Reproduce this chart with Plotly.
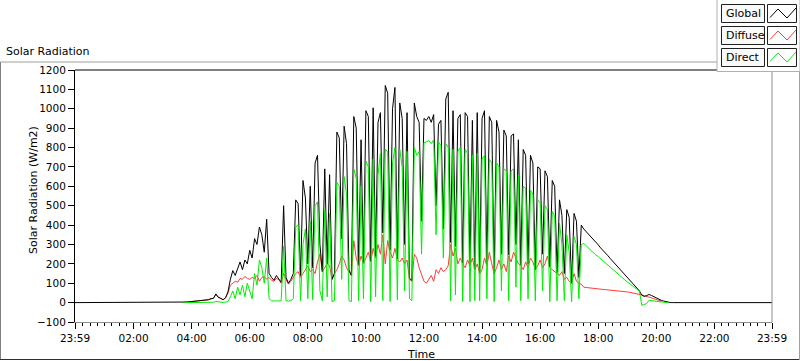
import plotly.graph_objects as go
import pandas as pd

# ---------------- data (5-minute samples from 03:40) ----------------
day_start = "2024-06-15 03:40"
night_start = "2024-06-14 23:59"
night_end = "2024-06-15 23:59"

global_vals = [
    0, 2, 3, 4,
    5, 6, 7, 9, 10, 12, 14, 15, 20, 22, 45, 28,
    22, 15, 25, 55, 120, 165, 140, 180, 210, 170, 220, 200,
    270, 230, 330, 300, 390, 350, 260, 430, 150, 130, 115, 140,
    120, 105, 500, 130, 100, 120, 150, 530, 510, 140, 630, 540,
    200, 600, 180, 720, 760, 300, 160, 690, 200, 660, 120, 150,
    880, 850, 330, 910, 820, 170, 140, 960, 900, 195, 840, 210,
    990, 960, 215, 1005, 240, 930, 980, 360, 1120, 1080, 270, 1000,
    1110, 225, 1030, 950, 300, 980, 125, 115, 1030, 960, 930, 420,
    950, 940, 960, 930, 970, 500, 920, 940, 380, 1050, 1085, 310,
    990, 290, 950, 970, 205, 980, 960, 195, 940, 175, 980, 155,
    950, 990, 200, 960, 930, 150, 940, 880, 250, 890, 860, 245,
    860, 870, 300, 840, 195, 790, 760, 200, 760, 720, 170, 700,
    690, 250, 680, 650, 185, 630, 600, 155, 530, 450, 150, 480,
    440, 100, 460, 420, 130, 400, 380, 367, 353, 338, 326, 311,
    298, 282, 270, 254, 242, 227, 213, 201, 186, 173, 157, 145,
    131, 116, 103, 88, 75, 61, 38, 32, 36, 42, 37, 30,
    24, 18, 12, 8, 4, 1, 0, 0, 0, 0,
]

diffuse_vals = [
    None, 2, 3, 4,
    5, 6, 7, 9, 10, 12, 14, 15, 20, 22, 40, 28,
    22, 15, 24, 50, 90, 100, 110, 105, 125, 120, 135, 125,
    120, 130, 125, 140, 110, 130, 135, 120, 130, 115, 110, 125,
    118, 100, 150, 120, 95, 110, 130, 150, 160, 130, 150, 170,
    190, 160, 170, 150, 210, 250, 160, 180, 200, 190, 120, 150,
    170, 200, 240, 220, 180, 160, 140, 320, 230, 190, 240, 200,
    230, 260, 210, 280, 230, 300, 250, 350, 200, 320, 260, 230,
    280, 220, 210, 230, 200, 220, 120, 110, 250, 230, 180, 150,
    110, 100, 120, 140, 110, 170, 150, 180, 160, 170, 190, 300,
    240, 280, 200, 230, 200, 180, 220, 190, 230, 170, 200, 150,
    170, 230, 190, 260, 200, 150, 180, 220, 170, 200, 160, 240,
    210, 260, 230, 200, 190, 170, 210, 180, 230, 210, 170, 190,
    220, 180, 200, 240, 180, 170, 160, 150, 140, 160, 120, 130,
    110, 100, 150, 110, 100, 95, 80, 78, 76, 74, 73, 72,
    70, 69, 68, 67, 66, 65, 63, 62, 61, 60, 58, 57,
    55, 53, 51, 49, 47, 45, 40, 36, 32, 28, 22, 18,
    14, 10, 8, None, None, None, None, None, None, None,
]

direct_vals = [
    None, 0, 0, 0,
    0, 0, 0, 0, 0, 1, 1, 1, 2, 2, 6, 3,
    2, 1, 3, 5, 30, 60, 20, 80, 40, 90, 30, 100,
    60, 20, 150, 90, 220, 180, 100, 230, 20, 10, 8, 10,
    8, 10, 290, 10, 8, 10, 20, 390, 400, 10, 300, 380,
    20, 420, 15, 500, 520, 60, 10, 480, 30, 460, 5, 10,
    620, 600, 120, 650, 560, 10, 5, 690, 640, 10, 600, 20,
    730, 700, 5, 740, 30, 660, 770, 10, 790, 780, 5, 720,
    800, 15, 790, 700, 60, 780, 20, 10, 800, 760, 780, 250,
    825, 830, 835, 820, 840, 350, 830, 810, 230, 820, 800, 10,
    790, 40, 780, 800, 5, 790, 770, 5, 760, 10, 770, 10,
    740, 760, 20, 740, 720, 5, 720, 700, 60, 690, 680, 10,
    680, 690, 80, 660, 10, 600, 590, 20, 580, 560, 10, 530,
    515, 60, 500, 480, 5, 470, 450, 10, 410, 300, 10, 350,
    260, 5, 340, 300, 20, 300, 306, 293, 281, 267, 257, 246,
    237, 226, 213, 203, 190, 181, 168, 159, 147, 138, 126, 117,
    107, 97, 89, 78, 70, 60, -14, -8, -5, 12, 10, 8,
    5, 4, 3, 2, 1, 0, None, None, None, None,
]

tick_times = ["2024-06-14 23:59", "2024-06-15 02:00", "2024-06-15 04:00",
              "2024-06-15 06:00", "2024-06-15 08:00", "2024-06-15 10:00",
              "2024-06-15 12:00", "2024-06-15 14:00", "2024-06-15 16:00",
              "2024-06-15 18:00", "2024-06-15 20:00", "2024-06-15 22:00",
              "2024-06-15 23:59"]
tick_labels = ["23:59", "02:00", "04:00", "06:00", "08:00", "10:00", "12:00",
               "14:00", "16:00", "18:00", "20:00", "22:00", "23:59"]

series_names = ["Global", "Diffuse", "Direct"]
series_colors = ["#000000", "#ff3b3b", "#00ee00"]

# ---------------- figure ----------------
times = list(pd.date_range(day_start, periods=len(global_vals), freq="5min"))

W, H = 800, 361
L, R, T, B = 75, 772, 70, 322
FONT = "DejaVu Sans"


def px(x):
    return (x - L) / (R - L)


def py(y):
    return (B - y) / (B - T)


fig = go.Figure()
fig.add_trace(go.Scatter(x=times, y=diffuse_vals, mode="lines", name="Diffuse",
                         line=dict(color=series_colors[1], width=1), showlegend=False))
fig.add_trace(go.Scatter(x=[pd.Timestamp(night_start)] + times + [pd.Timestamp(night_end)],
                         y=[0] + global_vals + [0], mode="lines", name="Global",
                         line=dict(color=series_colors[0], width=1), showlegend=False))
fig.add_trace(go.Scatter(x=times, y=direct_vals, mode="lines", name="Direct",
                         line=dict(color=series_colors[2], width=1), showlegend=False))

shapes = []
# outer frame
shapes.append(dict(type="line", xref="paper", yref="paper", x0=px(0.5), x1=px(717), y0=py(62), y1=py(62),
                   line=dict(color="#a0a0a0", width=1)))
shapes.append(dict(type="line", xref="paper", yref="paper", x0=px(0.5), x1=px(0.5), y0=py(62), y1=py(360),
                   line=dict(color="#808080", width=1)))
shapes.append(dict(type="line", xref="paper", yref="paper", x0=px(0), x1=px(800), y0=py(359.5), y1=py(359.5),
                   line=dict(color="#303030", width=1)))
shapes.append(dict(type="line", xref="paper", yref="paper", x0=px(799.5), x1=px(799.5), y0=py(62), y1=py(360),
                   line=dict(color="#a0a0a0", width=1)))
# plot borders
shapes.append(dict(type="line", xref="paper", yref="paper", x0=0, x1=1, y0=1, y1=1,
                   line=dict(color="#000000", width=1)))
shapes.append(dict(type="line", xref="paper", yref="paper", x0=1, x1=1, y0=0, y1=1,
                   line=dict(color="#8c8c8c", width=1)))

# legend panel
shapes.append(dict(type="rect", xref="paper", yref="paper", x0=px(717), x1=px(800), y0=py(-2), y1=py(71.5),
                   line=dict(color="#b0b0b0", width=1), fillcolor="#ffffff", layer="above"))
annotations = []
zig = [(0, 8.5), (8, 0), (17, 9), (26, -1)]
for i, (nm, col) in enumerate(zip(series_names, series_colors)):
    top = 4.5 + 22 * i
    shapes.append(dict(type="rect", xref="paper", yref="paper", x0=px(721.5), x1=px(764.5),
                       y0=py(top), y1=py(top + 18), line=dict(color="#202020", width=1),
                       fillcolor="#fafafa", layer="above"))
    shapes.append(dict(type="rect", xref="paper", yref="paper", x0=px(767.5), x1=px(796.5),
                       y0=py(top), y1=py(top + 18), line=dict(color="#202020", width=1),
                       fillcolor="#ffffff", layer="above"))
    path = "M " + " L ".join(f"{px(770 + dx)},{py(top + 4.5 + dy)}" for dx, dy in zig)
    shapes.append(dict(type="path", xref="paper", yref="paper", path=path,
                       line=dict(color=col, width=1), layer="above"))
    annotations.append(dict(text=nm, xref="paper", yref="paper", x=px(723.5), y=py(top + 9),
                            xanchor="left", yanchor="middle", showarrow=False,
                            font=dict(family=FONT, size=11, color="#000000")))

annotations.append(dict(text="Solar Radiation", xref="paper", yref="paper", x=px(4), y=py(51),
                        xanchor="left", yanchor="middle", showarrow=False,
                        font=dict(family=FONT, size=11, color="#000000")))
annotations.append(dict(text="Solar Radiation (W/m2)", xref="paper", yref="paper", x=px(33), y=py(190),
                        xanchor="center", yanchor="middle", textangle=-90, showarrow=False,
                        font=dict(family=FONT, size=11, color="#000000")))
annotations.append(dict(text="Time", xref="paper", yref="paper", x=px(421), y=py(354),
                        xanchor="center", yanchor="middle", showarrow=False,
                        font=dict(family=FONT, size=11, color="#000000")))

fig.update_layout(
    width=W, height=H,
    margin=dict(l=L, r=W - R, t=T, b=H - B, pad=0),
    paper_bgcolor="#ffffff", plot_bgcolor="#ffffff",
    font=dict(family=FONT, size=10.5, color="#000000"),
    shapes=shapes, annotations=annotations,
    xaxis=dict(type="date", range=[night_start, night_end],
               tickmode="array", tickvals=tick_times, ticktext=tick_labels,
               showgrid=False, zeroline=False, showline=True, linecolor="#8c8c8c", linewidth=1,
               ticks="outside", ticklen=6, tickwidth=1, tickcolor="#000000",
               minor=dict(ticks="outside", ticklen=3, tickwidth=1, tickcolor="#000000",
                          tick0="2024-06-15 00:00", dtick=15 * 60 * 1000, showgrid=False),
               tickfont=dict(family=FONT, size=10.5, color="#000000")),
    yaxis=dict(range=[-100, 1200], tickmode="linear", tick0=0, dtick=100,
               showgrid=False, zeroline=False, showline=True, linecolor="#000000", linewidth=1,
               ticks="outside", ticklen=6, tickwidth=1, tickcolor="#000000",
               tickfont=dict(family=FONT, size=10.5, color="#000000")),
)

fig.write_html("out.html", config={"displayModeBar": False},
               post_script="document.body.style.margin='0';document.body.style.overflow='hidden';")
